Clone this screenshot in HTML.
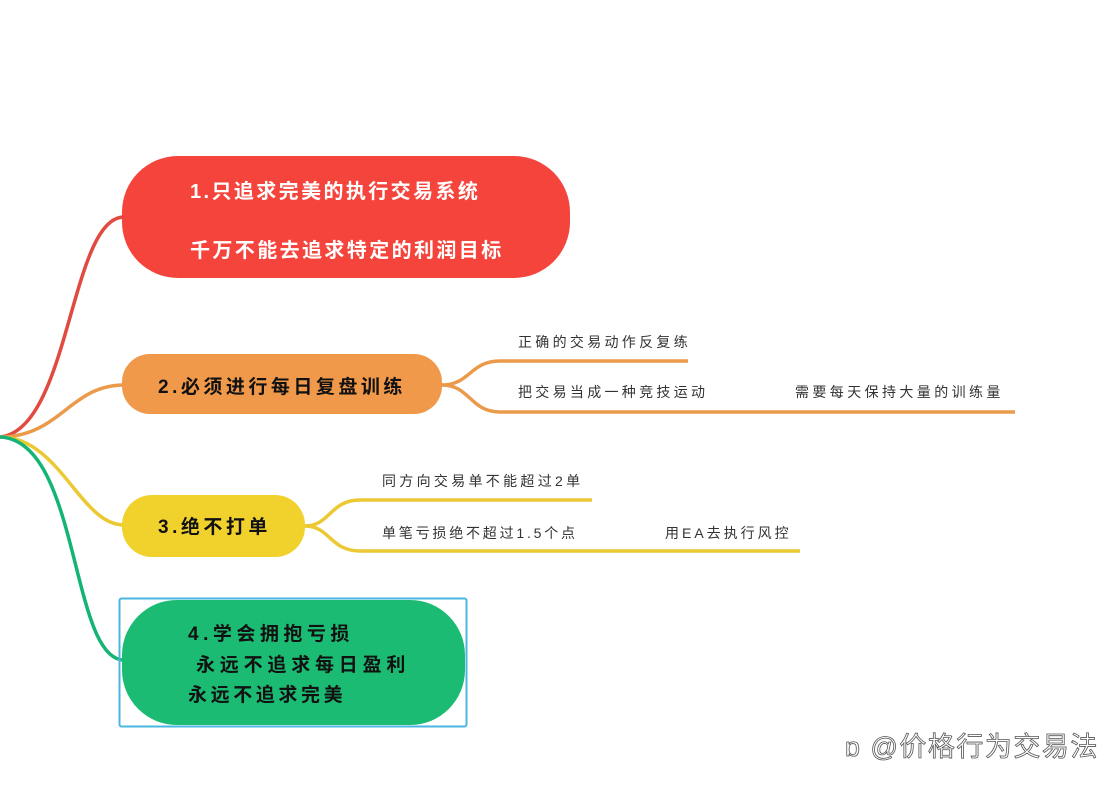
<!DOCTYPE html>
<html><head><meta charset="utf-8"><style>
html,body{margin:0;padding:0;background:#fff;}
svg{display:block;}
text{font-family:"Liberation Sans","Noto Sans CJK SC",sans-serif;}
</style></head><body>
<svg width="1106" height="794" viewBox="0 0 1106 794" xmlns="http://www.w3.org/2000/svg">
<rect width="1106" height="794" fill="#fff"/>
<path d="M0,437 C70,430 70,217 124,217" fill="none" stroke="#e04a3f" stroke-width="3.5"/>
<path d="M0,437 C60,437 70,385 124,385" fill="none" stroke="#eb9a4a" stroke-width="3.5"/>
<path d="M0,437 C60,437 80,525 124,525" fill="none" stroke="#ecc933" stroke-width="3.5"/>
<path d="M0,437 C80,440 70,660 124,660" fill="none" stroke="#14b474" stroke-width="3.5"/>
<rect x="122" y="156" width="448" height="122" rx="56" fill="#f5443c"/>
<text x="190" y="198" font-size="20" font-weight="bold" fill="#fff" letter-spacing="2.4">1.只追求完美的执行交易系统</text>
<text x="190" y="257" font-size="20" font-weight="bold" fill="#fff" letter-spacing="2.4">千万不能去追求特定的利润目标</text>
<rect x="122" y="354" width="320" height="60" rx="28" fill="#f0994a"/>
<text x="158" y="393" font-size="19" font-weight="bold" fill="#111" letter-spacing="3.5">2.必须进行每日复盘训练</text>
<path d="M442,385 C470,385 470,361 500,361 L688,361" fill="none" stroke="#eb9a4a" stroke-width="3.5"/>
<path d="M442,385 C470,385 470,412 500,412 L1015,412" fill="none" stroke="#eb9a4a" stroke-width="3.5"/>
<text x="518" y="347" font-size="14" fill="#333" letter-spacing="3.3">正确的交易动作反复练</text>
<text x="518" y="397" font-size="14" fill="#333" letter-spacing="3.3">把交易当成一种竞技运动</text>
<text x="795" y="397" font-size="14" fill="#333" letter-spacing="3.4">需要每天保持大量的训练量</text>
<rect x="122" y="495" width="183" height="62" rx="30" fill="#f1d12c"/>
<text x="158" y="533" font-size="19" font-weight="bold" fill="#111" letter-spacing="3.5">3.绝不打单</text>
<path d="M305,526 C330,526 330,500 360,500 L592,500" fill="none" stroke="#ecc933" stroke-width="3.5"/>
<path d="M305,526 C330,526 330,551 360,551 L800,551" fill="none" stroke="#ecc933" stroke-width="3.5"/>
<text x="382" y="486" font-size="14" fill="#333" letter-spacing="3.3">同方向交易单不能超过2单</text>
<text x="382" y="538" font-size="14" fill="#333" letter-spacing="2.8">单笔亏损绝不超过1.5个点</text>
<text x="665" y="538" font-size="14" fill="#333" letter-spacing="3">用EA去执行风控</text>
<rect x="122" y="600" width="343" height="125" rx="55" fill="#1cbb74"/>
<rect x="119.5" y="598.5" width="347" height="128" rx="2" fill="none" stroke="#4bb7e0" stroke-width="2"/>
<text x="188" y="640" font-size="19" font-weight="bold" fill="#111" letter-spacing="4.5">4.学会拥抱亏损</text>
<text x="196" y="671" font-size="19" font-weight="bold" fill="#111" letter-spacing="4.8">永远不追求每日盈利</text>
<text x="188" y="701" font-size="19" font-weight="bold" fill="#111" letter-spacing="3.6">永远不追求完美</text>
<text x="845" y="756" font-size="27" fill="#fff" stroke="#555" stroke-width="0.8" letter-spacing="1.5">ɒ @价格行为交易法</text>
</svg>
</body></html>
